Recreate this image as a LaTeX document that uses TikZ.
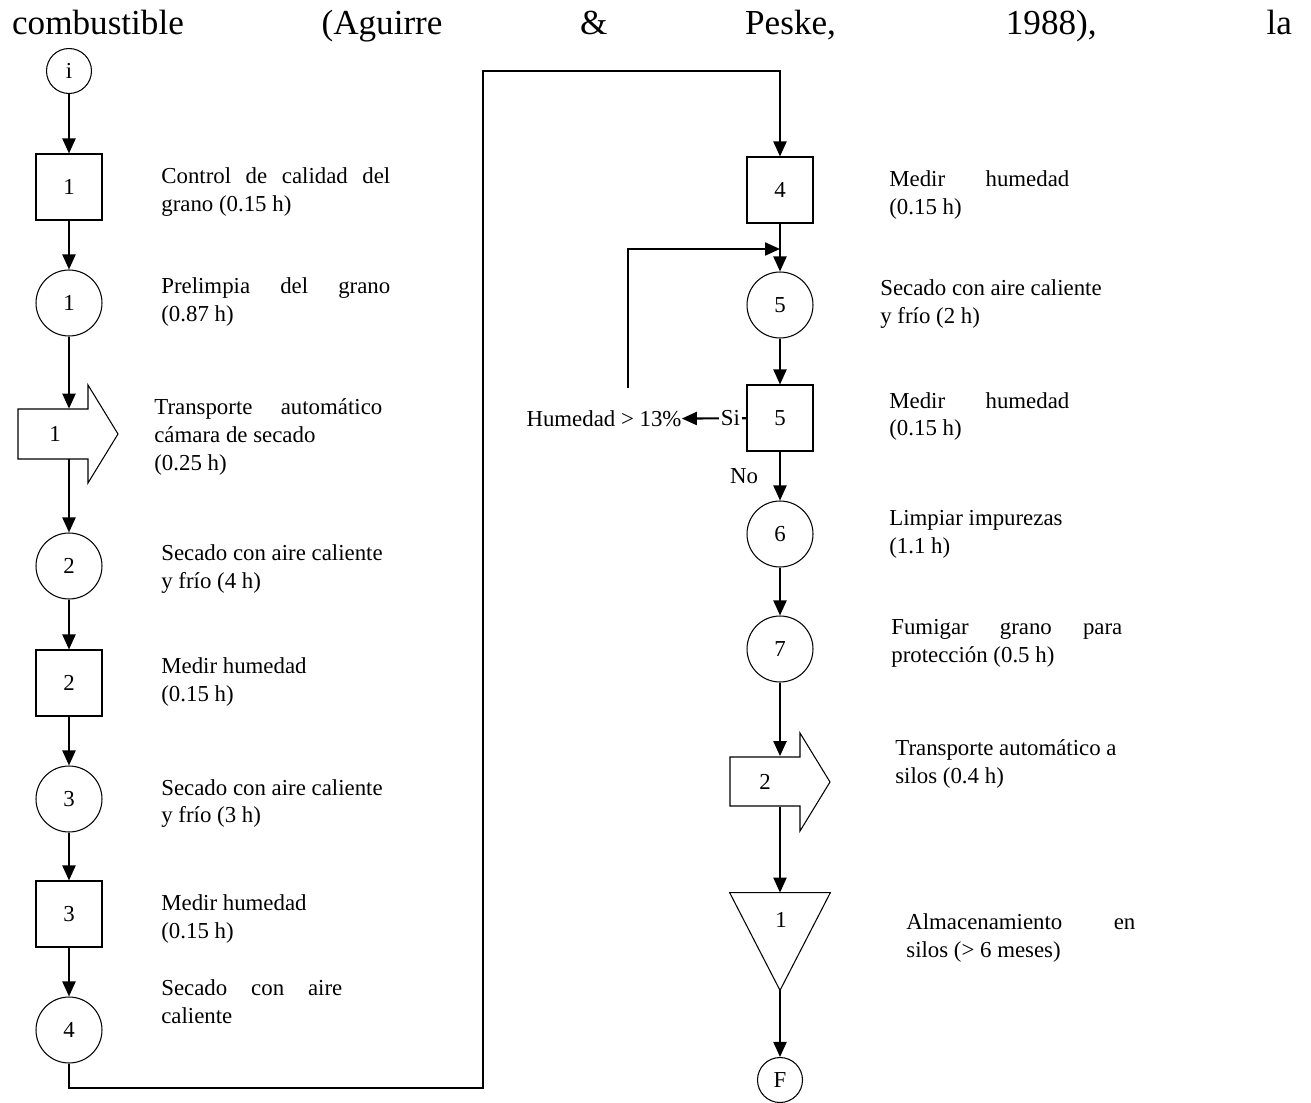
\documentclass[tikz,border=0pt]{standalone}
\usepackage{fontspec}
\setmainfont{Liberation Serif}
\usepackage{tikz}
\usetikzlibrary{shapes,arrows,positioning,calc,arrows.meta}

\tikzset{
    op/.style={circle, draw, line width=0.6pt, minimum size=1.32cm, inner sep=0pt, font=\fontsize{13}{16}\selectfont},
    insp/.style={rectangle, draw, line width=0.6pt, minimum size=1.32cm, inner sep=0pt, font=\fontsize{13}{16}\selectfont},
    extremo/.style={circle, draw, line width=0.6pt, minimum size=0.9cm, inner sep=0pt, font=\fontsize{13}{16}\selectfont},
    cuerpo/.style={rectangle, minimum width=1.4cm, minimum height=1cm, inner sep=0pt, font=\fontsize{13}{16}\selectfont},
    silo/.style={rectangle, minimum width=2cm, minimum height=1.94cm, inner sep=0pt},
    flujo/.style={-{Triangle[length=0.3cm, width=0.26cm]}, line width=1.2pt},
    txt/.style={anchor=west, align=left, inner sep=0pt, font=\fontsize{13}{15.9}\selectfont}
}

\begin{document}
\begin{tikzpicture}[x=0.02cm, y=-0.02cm]
    \useasboundingbox (0, 0) rectangle (1311, 1102);

    % Texto de la pagina
    \node [inner sep=0pt, font=\fontsize{20}{24}\selectfont] (cita) at (652, 26) {\makebox[25.6cm][s]{combustible (Aguirre \& Peske, 1988), la}};

    % Columna izquierda
    \node [extremo] (ini) at (69, 71) {i};
    \node [insp] (s1) at (69, 187) {1};
    \node [op] (c1) at (69, 303) {1};
    \draw [line width=0.6pt] (18, 409) -- (88, 409) -- (88, 385) -- (118, 434) -- (88, 483) -- (88, 459) -- (18, 459) -- cycle;
    \node [cuerpo] (t1) at (55, 434) {1};
    \node [op] (c2) at (69, 566) {2};
    \node [insp] (s2) at (69, 683) {2};
    \node [op] (c3) at (69, 799) {3};
    \node [insp] (s3) at (69, 914) {3};
    \node [op] (c4) at (69, 1030) {4};

    \node [txt] (l1) at (161, 192.5) {\makebox[4.58cm][s]{Control de calidad del}\\grano (0.15 h)};
    \node [txt] (l2) at (161, 302) {\makebox[4.58cm][s]{Prelimpia del grano}\\(0.87 h)};
    \node [txt] (l3) at (154, 437) {\makebox[4.56cm][s]{Transporte automático}\\cámara de secado\\(0.25 h)};
    \node [txt] (l4) at (161, 569) {Secado con aire caliente\\y frío (4 h)};
    \node [txt] (l5) at (161, 682) {Medir humedad\\(0.15 h)};
    \node [txt] (l6) at (161, 803.5) {Secado con aire caliente\\y frío (3 h)};
    \node [txt] (l7) at (161, 919) {Medir humedad\\(0.15 h)};
    \node [txt] (l8) at (161, 1002) {\makebox[3.62cm][s]{Secado con aire}\\caliente};

    \draw [flujo] (ini) -- (s1);
    \draw [flujo] (s1) -- (c1);
    \draw [flujo] (c1) -- (c1 |- t1.north);
    \draw [flujo] (c1 |- t1.south) -- (c2);
    \draw [flujo] (c2) -- (s2);
    \draw [flujo] (s2) -- (c3);
    \draw [flujo] (c3) -- (s3);
    \draw [flujo] (s3) -- (c4);

    % Columna derecha
    \node [insp] (s4) at (780, 190) {4};
    \node [op] (c5) at (780, 305) {5};
    \node [insp] (s5) at (780, 418) {5};
    \node [op] (c6) at (780, 534) {6};
    \node [op] (c7) at (780, 649) {7};
    \draw [line width=0.6pt] (730, 757) -- (800, 757) -- (800, 733) -- (830, 782) -- (800, 831) -- (800, 806) -- (730, 806) -- cycle;
    \node [cuerpo] (t2) at (765, 781.5) {2};
    \node [silo] (a1) at (780, 941.5) {};
    \draw [line width=0.6pt] (a1.north west) -- (a1.north east) -- (a1.south) -- cycle;
    \node [font=\fontsize{13}{16}\selectfont] (a1n) at (781, 920) {1};
    \node [extremo] (fin) at (780, 1080) {F};

    \node [font=\fontsize{13}{16}\selectfont, inner sep=0pt] (hum) at (604, 419) {Humedad > 13\%};

    \node [txt] (r1) at (889, 195) {\makebox[3.6cm][s]{Medir humedad}\\(0.15 h)};
    \node [txt] (r2) at (880, 304) {Secado con aire caliente\\y frío (2 h)};
    \node [txt] (r3) at (889, 416.5) {\makebox[3.6cm][s]{Medir humedad}\\(0.15 h)};
    \node [txt] (r4) at (889, 534) {Limpiar impurezas\\(1.1 h)};
    \node [txt] (r5) at (891, 643) {\makebox[4.62cm][s]{Fumigar grano para}\\protección (0.5 h)};
    \node [txt] (r6) at (895, 764) {Transporte automático a\\silos (0.4 h)};
    \node [txt] (r7) at (906, 938) {\makebox[4.58cm][s]{Almacenamiento en}\\silos (> 6 meses)};

    % Union entre columnas
    \coordinate (esq1) at (483, 1088);
    \coordinate (esq2) at (483, 71);
    \draw [flujo] (c4.south) |- (esq1) -- (esq2) -| (s4.north);

    \draw [flujo] (s4) -- (c5);
    \coordinate (ret) at (628, 388);
    \coordinate (junta) at (780, 249);
    \draw [flujo] (ret) |- (junta);
    \draw [flujo] (c5) -- (s5);
    \draw [flujo] (s5) -- node [pos=0.25, fill=white, inner sep=1pt, font=\fontsize{13}{16}\selectfont] {Si} (hum);
    \draw [flujo] (s5) -- node [left=0.3cm, font=\fontsize{13}{16}\selectfont] {No} (c6);
    \draw [flujo] (c6) -- (c7);
    \draw [flujo] (c7) -- (c7 |- t2.north);
    \draw [flujo] (c7 |- t2.south) -- (a1.north);
    \draw [flujo] (a1.south) -- (fin);
\end{tikzpicture}
\end{document}
